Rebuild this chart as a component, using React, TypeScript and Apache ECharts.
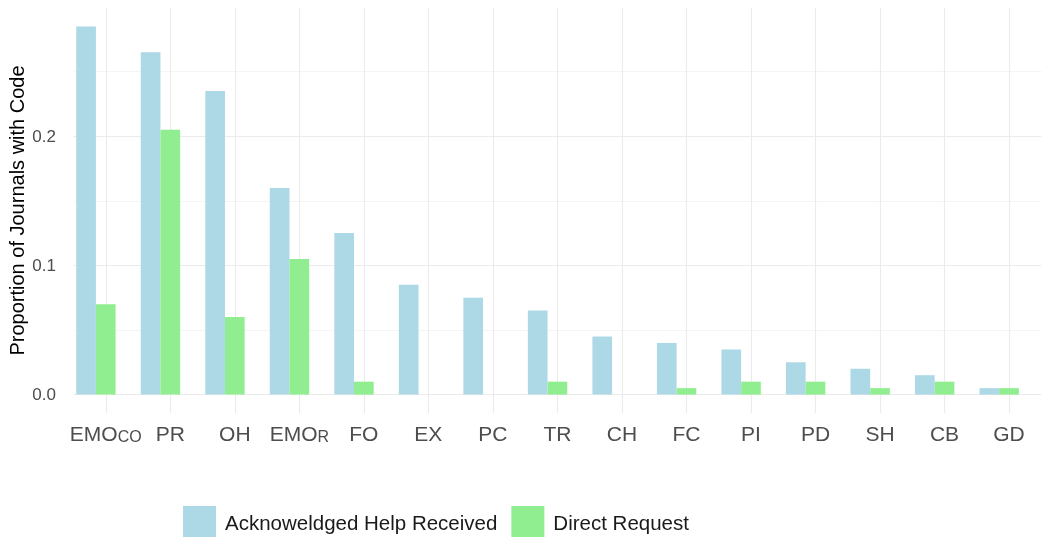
import React, { useEffect, useRef } from "react";
import * as echarts from "echarts";

const categories = ["EMOco", "PR", "OH", "EMOR", "FO", "EX", "PC", "TR", "CH", "FC", "PI", "PD", "SH", "CB", "GD"];
const helpReceived = [0.285, 0.265, 0.235, 0.16, 0.125, 0.085, 0.075, 0.065, 0.045, 0.04, 0.035, 0.025, 0.02, 0.015, 0.005];
const directRequest = [0.07, 0.205, 0.06, 0.105, 0.01, 0, 0, 0.01, 0, 0.005, 0.01, 0.01, 0.005, 0.01, 0.005];
const padSeries = categories.map(() => 0);
const yMajorTicks = [0, 0.1, 0.2];
const yMinorTicks = [0.05, 0.15, 0.25];
const seriesNames = ["Acknoweldged Help Received", "Direct Request"];

const labelFor = (c: string) => {
  if (c === "EMOco") return "{a|EMO}{b|CO}";
  if (c === "EMOR") return "{a|EMO}{b|R}";
  return "{a|" + c + "}";
};

const FONT = "'Liberation Sans', Arial, sans-serif";

export default function App() {
  const ref = useRef<HTMLDivElement>(null);
  useEffect(() => {
    if (!ref.current) return;
    const chart = echarts.init(ref.current, null, { renderer: "svg" });
    const gridLines = [
      ...yMajorTicks.map((v) => ({ yAxis: v, lineStyle: { width: 1.1 } })),
      ...yMinorTicks.map((v) => ({ yAxis: v, lineStyle: { width: 0.55 } })),
      ...categories.map((c) => ({ xAxis: c, lineStyle: { width: 1.1 } })),
    ];
    chart.setOption({
      animation: false,
      textStyle: { fontFamily: FONT },
      grid: { left: 73.5, right: 9.7, top: 8, bottom: 124, containLabel: false, outerBoundsMode: "none" },
      legend: {
        data: seriesNames,
        left: 178,
        top: 501,
        itemWidth: 33,
        itemHeight: 32,
        itemGap: 14,
        icon: "rect",
        textStyle: { fontSize: 20.5, color: "#1a1a1a", fontFamily: FONT, padding: [0, 0, 0, 4] },
      },
      xAxis: {
        type: "category",
        data: categories,
        axisLine: { show: false, onZero: false },
        axisTick: { show: false },
        splitLine: { show: false },
        axisLabel: {
          interval: 0,
          margin: 9,
          formatter: (v: string) => labelFor(v),
          rich: {
            a: { fontSize: 21, color: "#4d4d4d", fontFamily: FONT, lineHeight: 22, verticalAlign: "bottom" },
            b: { fontSize: 16, color: "#4d4d4d", fontFamily: FONT, lineHeight: 22, verticalAlign: "bottom" },
          },
        },
      },
      yAxis: {
        type: "value",
        min: -0.01425,
        max: 0.29925,
        name: "Proportion of Journals with Code",
        nameLocation: "middle",
        nameGap: 46.5,
        nameMoveOverlap: false,
        nameTextStyle: { fontSize: 20, color: "#000", fontFamily: FONT },
        axisLine: { show: false },
        axisTick: { show: false },
        splitLine: { show: false },
        axisLabel: {
          customValues: yMajorTicks,
          formatter: (v: number) => v.toFixed(1),
          fontSize: 17,
          color: "#4d4d4d",
          margin: 17.5,
          fontFamily: FONT,
        },
      },
      series: [
        {
          name: "_grid",
          type: "line",
          data: padSeries,
          symbol: "none",
          showSymbol: false,
          silent: true,
          z: 1,
          lineStyle: { opacity: 0, width: 0 },
          markLine: {
            silent: true,
            z: 1,
            symbol: "none",
            label: { show: false },
            lineStyle: { color: "#ebebeb", type: "solid", width: 1.1 },
            data: gridLines,
          },
        },
        {
          name: seriesNames[0],
          type: "bar",
          data: helpReceived,
          barWidth: "30.5%",
          barGap: "0%",
          z: 10,
          itemStyle: { color: "#ADD8E6" },
        },
        {
          name: seriesNames[1],
          type: "bar",
          data: directRequest,
          barWidth: "30.5%",
          barGap: "0%",
          z: 10,
          itemStyle: { color: "#90EE90" },
        },
        {
          name: "_pad",
          type: "bar",
          data: padSeries,
          barWidth: "30.5%",
          barGap: "0%",
          z: 1,
          silent: true,
          itemStyle: { color: "rgba(0,0,0,0)" },
        },
      ],
    });
    return () => chart.dispose();
  }, []);
  return <div ref={ref} style={{ position: "fixed", left: 0, top: 0, width: 1051, height: 537 }} />;
}
